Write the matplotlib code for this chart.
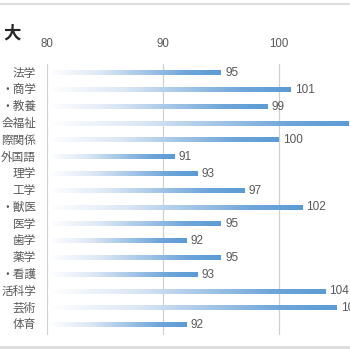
import matplotlib
matplotlib.use("Agg")
import matplotlib.pyplot as plt
import numpy as np
from matplotlib.colors import LinearSegmentedColormap
from matplotlib.lines import Line2D

plt.rcParams['font.family'] = ['Noto Sans CJK JP', 'DejaVu Sans']

title = "大"
categories = ["法学", "・商学", "・教養", "会福祉", "際関係", "外国語", "理学", "工学",
              "・獣医", "医学", "歯学", "薬学", "・看護", "活科学", "芸術", "体育"]
values = [95, 101, 99, 106, 100, 91, 93, 97, 102, 95, 92, 95, 93, 104, 105, 92]
xticks = [80, 90, 100]

W, H = 350, 350
fig = plt.figure(figsize=(3.5, 3.5), dpi=100)
fig.patch.set_facecolor("white")

px = 11.6  # pixels per unit
x0 = 47
xmax = 110
ax_left = x0 / W
ax_width = (xmax - 80) * px / W
ax_top_px, ax_bot_px = 64, 335
ax = fig.add_axes([ax_left, 1 - ax_bot_px / H, ax_width, (ax_bot_px - ax_top_px) / H])
ax.set_facecolor("none")

cmap = LinearSegmentedColormap.from_list(
    "g", [(0, "#ffffff"), (0.3, "#dde8f5"), (0.8, "#6fa6da"), (1.0, "#5B9BD5")])
grad = np.linspace(0, 1, 256).reshape(1, -1)
bh = 0.26
for i, v in enumerate(values):
    ax.imshow(grad, cmap=cmap, aspect="auto", extent=[80.1, v, i + bh / 2, i - bh / 2],
              interpolation="bilinear", zorder=3)
    ax.text(v + 0.35, i, str(v), va="center", ha="left", fontsize=8.5,
            color="#595959", family=["Liberation Sans"], zorder=4, clip_on=False)

ax.set_xlim(80, xmax)
ax.set_ylim(15.6, -0.54)
for t in xticks:
    ax.axvline(t, color="#d0d0d0", lw=0.9, zorder=1)
ax.set_xticks([])
ax.set_yticks([])
for s in ax.spines.values():
    s.set_visible(False)

# top tick labels
for t in xticks:
    fig.text((x0 + (t - 80) * px) / W, 1 - 44 / H, str(t), ha="center", va="center",
             fontsize=8.3, color="#595959", family=["Liberation Sans"])

# category labels
for i, c in enumerate(categories):
    y_px = ax_top_px + (i + 0.54) * (ax_bot_px - ax_top_px) / 16.14
    fig.text(36 / W, 1 - y_px / H, c, ha="right", va="center", fontsize=8.4, color="#595959")

# title
fig.text(3 / W, 1 - 34 / H, title, ha="left", va="center", fontsize=12.5, color="#262626",
         fontweight="bold")

# border lines
fig.add_artist(Line2D([0, 1], [1 - 4 / H, 1 - 4 / H], color="#dcdcdc", lw=1.5))
fig.add_artist(Line2D([0, 1], [1 - 346.5 / H, 1 - 346.5 / H], color="#dcdcdc", lw=2))

fig.savefig("out.png", dpi=100, facecolor="white")
